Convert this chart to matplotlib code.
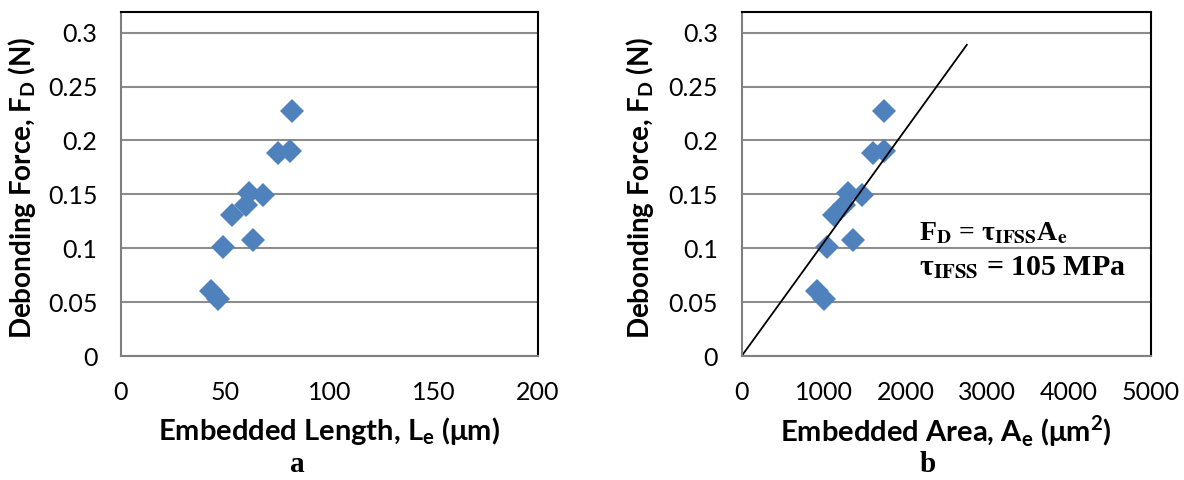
import numpy as np
import matplotlib.pyplot as plt

plt.rcParams['font.family'] = ['Lato', 'DejaVu Sans']
plt.rcParams['mathtext.fontset'] = 'custom'
plt.rcParams['mathtext.rm'] = 'Lato'
plt.rcParams['mathtext.bf'] = 'Lato:bold'

# embedded length (um), embedded area (um^2), debonding force (N)
length = [81.9, 75.4, 81.1, 61.5, 68.2, 59.8, 53.1, 63.5, 48.8, 43.0, 46.7]
area   = [1741, 1607, 1737, 1302, 1465, 1253, 1127, 1355, 1038, 916, 1009]
force  = [0.227, 0.188, 0.190, 0.151, 0.149, 0.140, 0.131, 0.108, 0.101, 0.060, 0.053]

tau_ifss = 105          # MPa
fit_area = [0, 2750]    # um^2

blue = '#4F81BD'
grid_c = '#8C8C8C'

fig = plt.figure(figsize=(11.84, 4.8), dpi=100)
ax1 = fig.add_axes([121/1184, 124/480, 417/1184, 344/480])
ax2 = fig.add_axes([741.7/1184, 124/480, 409.3/1184, 344/480])

def style(ax, xmax, xstep, ylab_x, xlab_x):
    ax.set_xlim(0, xmax)
    ax.set_ylim(0, 0.3192)
    ax.set_xticks(np.arange(0, xmax + 1, xstep))
    ax.set_yticks(np.arange(0, 0.31, 0.05))
    ax.set_yticklabels(['0', '0.05', '0.1', '0.15', '0.2', '0.25', '0.3'])
    ax.tick_params(length=0, labelsize=18)
    ax.tick_params(axis='y', pad=17)
    ax.tick_params(axis='x', pad=18)
    ax.grid(axis='y', color=grid_c, linewidth=1.5)
    ax.set_axisbelow(True)
    for s in ['left', 'bottom']:
        ax.spines[s].set_color('#7F7F7F')
        ax.spines[s].set_linewidth(1.5)
    for s in ['top', 'right']:
        ax.spines[s].set_color('black')
        ax.spines[s].set_linewidth(1.5)
    ax.set_ylabel(r'Debonding Force, F$_\mathbf{D}$ (N)', fontsize=20,
                  fontweight='bold', va='center')
    ax.yaxis.set_label_coords(ylab_x, 0.49)
    ax.xaxis.set_label_coords(xlab_x, -0.218)

style(ax1, 200, 50, -0.237, 0.494)
ax1.plot(length, force, 'D', color=blue, markersize=12.5, markeredgewidth=0)
ax1.set_xlabel(r'Embedded Length, L$_\mathbf{e}$ ($\mathbf{\mu}$m)', fontsize=21,
               fontweight='bold', va='center')

style(ax2, 5000, 1000, -0.248, 0.455)
ax2.plot(area, force, 'D', color=blue, markersize=12.5, markeredgewidth=0)
fit_x = np.array(fit_area)
ax2.plot(fit_x, tau_ifss * 1e-6 * fit_x, color='black', linewidth=1.3)
ax2.set_xlabel(r'Embedded Area, A$_\mathbf{e}$ ($\mathbf{\mu}$m$^\mathbf{2}$)', fontsize=21,
               fontweight='bold', va='center')

ax2.text(2160, 0.114, r'F$_\mathbf{D}$ = τ$_\mathbf{IFSS}$A$_\mathbf{e}$',
         fontsize=20, fontweight='bold', family='Liberation Serif',
         math_fontfamily='stix', va='center')
ax2.text(2160, 0.082, r'τ$_\mathbf{IFSS}$ = 105 MPa',
         fontsize=21.5, fontweight='bold', family='Liberation Serif',
         math_fontfamily='stix', va='center')

fig.text(297/1184, 1 - 464/480, 'a', fontsize=21, fontweight='bold',
         family='Liberation Serif', ha='center', va='center')
fig.text(928/1184, 1 - 464/480, 'b', fontsize=21, fontweight='bold',
         family='Liberation Serif', ha='center', va='center')

fig.savefig('out.png', dpi=100)
